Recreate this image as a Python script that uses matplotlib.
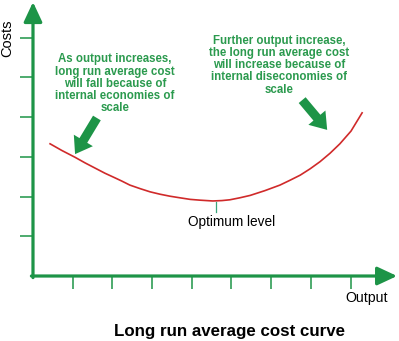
import matplotlib
matplotlib.use("Agg")
import matplotlib.pyplot as plt
from matplotlib.patches import FancyArrowPatch

plt.rcParams['font.family'] = ['Liberation Sans', 'DejaVu Sans']

# long run average cost curve, read in tick units
output_vals = [0.43, 0.73, 1.06, 1.31, 1.56, 1.81, 2.07, 2.24, 2.44, 2.70,
               2.95, 3.20, 3.45, 3.70, 3.96, 4.21, 4.53, 4.76, 4.96, 5.21,
               5.47, 5.84, 6.22, 6.47, 6.73, 6.98, 7.23, 7.48, 7.73, 8.01, 8.29]
cost_vals = [3.33, 3.16, 2.99, 2.85, 2.72, 2.59, 2.47, 2.39, 2.29, 2.20,
             2.12, 2.06, 2.01, 1.97, 1.93, 1.91, 1.89, 1.90, 1.92, 1.97,
             2.03, 2.15, 2.29, 2.41, 2.54, 2.70, 2.88, 3.09, 3.33, 3.65, 4.11]
optimum_x = 4.6
x_ticks = [1, 2, 3, 4, 5, 6, 7, 8]
y_ticks = [1, 2, 3, 4, 5, 6]

left_note = ("As output increases,\nlong run average cost\nwill fall because of\n"
             "internal economies of\nscale")
right_note = ("Further output increase,\nthe long run average cost\nwill increase because of\n"
              "internal diseconomies of\nscale")

green = '#1d9447'
text_green = '#2b9a4e'
red = '#d02a2a'

fig = plt.figure(figsize=(3.99, 3.41), dpi=100)
ax = fig.add_axes([0, 0, 1, 1])
ax.set_xlim(-0.831, 9.219)
ax.set_ylim(-1.637, 6.952)
ax.axis('off')

# axes with arrow heads
axis_style = dict(arrowstyle='-|>,head_length=0.6,head_width=0.28', color=green,
                  lw=2.3, shrinkA=0, shrinkB=0, mutation_scale=20)
ax.annotate('', xy=(0, 6.90), xytext=(0, -0.04), arrowprops=axis_style)
ax.annotate('', xy=(9.17, 0), xytext=(-0.04, 0), arrowprops=axis_style)

for t in y_ticks:
    ax.plot([-0.33, 0], [t, t], color=green, lw=1.1, solid_capstyle='butt')
for t in x_ticks:
    ax.plot([t, t], [0, -0.33], color=green, lw=1.1, solid_capstyle='butt')

# cost curve
ax.plot(output_vals, cost_vals, color=red, lw=1.2, solid_joinstyle='round')
ax.plot([optimum_x, optimum_x], [min(cost_vals) - 0.02, 1.61], color='#3aa57a', lw=0.9)
ax.text(4.99, 1.36, 'Optimum level', ha='center', va='center', fontsize=9.8)

# labels
ax.text(-0.66, 6.0, 'Costs', rotation=90, ha='center', va='center', fontsize=10.5)
ax.text(8.41, -0.55, 'Output', ha='center', va='center', fontsize=10.2)
ax.text(4.96, -1.41, 'Long run average cost curve', ha='center', va='center',
        fontsize=12.2, fontweight='bold')

ax.text(2.07, 4.84, left_note, ha='center', va='center', fontsize=8.3,
        fontweight='bold', color=text_green, linespacing=1.02)
ax.text(6.20, 5.31, right_note, ha='center', va='center', fontsize=8.3,
        fontweight='bold', color=text_green, linespacing=1.02)

# fat pointer arrows
pointer = 'simple,head_length=1.15,head_width=1.6,tail_width=0.65'
for tail, tip in [((1.61, 3.98), (1.06, 3.07)), ((6.78, 4.43), (7.41, 3.68))]:
    ax.add_patch(FancyArrowPatch(tail, tip, arrowstyle=pointer, mutation_scale=10,
                                 shrinkA=0, shrinkB=0, color=green, lw=0))

fig.savefig('out.png', dpi=100)
